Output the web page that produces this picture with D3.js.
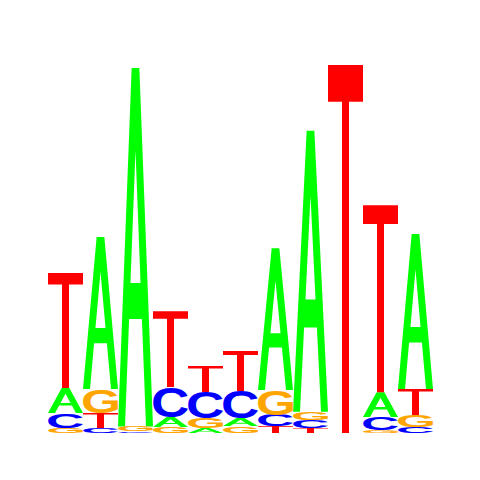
<!DOCTYPE html>
<html>
<head>
<meta charset="utf-8">
<script src="https://cdn.jsdelivr.net/npm/d3@7"></script>
<style>
  body { margin: 0; background: #fff; }
</style>
</head>
<body>
<svg id="logo" width="480" height="480"></svg>
<script>
// positions of the motif
var positions = [1, 2, 3, 4, 5, 6, 7, 8, 9, 10, 11];
// information content (bits) carried by each base at each position
var bitsA = [0.133, 0.811, 1.912, 0.053, 0.027, 0.043, 0.757, 1.499, 0.000, 0.133, 0.827];
var bitsC = [0.080, 0.027, 0.008, 0.160, 0.139, 0.144, 0.059, 0.043, 0.000, 0.069, 0.032];
var bitsG = [0.027, 0.128, 0.027, 0.032, 0.053, 0.037, 0.133, 0.043, 0.000, 0.016, 0.064];
var bitsT = [0.613, 0.080, 0.000, 0.405, 0.139, 0.213, 0.037, 0.027, 1.963, 0.997, 0.139];
var bases = ['A', 'C', 'G', 'T'];
var baseColors = { A: '#00ff00', C: '#0000ff', G: '#ffa500', T: '#ff0000' };

var svg = d3.select('#logo');

var x = d3.scaleBand().domain(positions).range([48, 433]).padding(0);
var y = d3.scaleLinear().domain([0, 2]).range([433, 58]);

// A and T drawn as outlines in a unit box (thin bars like the original logo font)
var unitGlyphs = {
  A: 'M0.39,0L0.61,0L1,1L0.80,1L0.683,0.70L0.317,0.70L0.20,1L0,1Z' +
     'M0.5,0.23L0.644,0.60L0.356,0.60Z',
  T: 'M0,0L1,0L1,0.10L0.60,0.10L0.60,1L0.40,1L0.40,0.10L0,0.10Z'
};

// C and G come from the font; measure their ink box so they can be stretched
var ctx = document.createElement('canvas').getContext('2d');
var fontSize = 100;
var fontFamily = '"Liberation Sans", Arial, sans-serif';
ctx.font = 'bold ' + fontSize + 'px ' + fontFamily;
var ink = {};
['C', 'G'].forEach(function(b) {
  var m = ctx.measureText(b);
  ink[b] = {
    left: -m.actualBoundingBoxLeft,
    right: m.actualBoundingBoxRight,
    top: -m.actualBoundingBoxAscent,
    bottom: m.actualBoundingBoxDescent
  };
});

function columnStack(i) {
  var vals = { A: bitsA[i], C: bitsC[i], G: bitsG[i], T: bitsT[i] };
  // smallest at the bottom, largest on top
  var order = bases.slice().sort(function(a, b) { return vals[a] - vals[b]; });
  var acc = 0;
  return order.map(function(b) {
    var d = { base: b, pos: positions[i], y0: acc, y1: acc + vals[b] };
    acc += vals[b];
    return d;
  }).filter(function(d) { return d.y1 - d.y0 > 0; });
}

var letters = [];
positions.forEach(function(p, i) {
  letters = letters.concat(columnStack(i));
});

var g = svg.append('g');

// path letters
g.selectAll('path.letter')
  .data(letters.filter(function(d) { return unitGlyphs[d.base]; }))
  .enter()
  .append('path')
  .attr('class', 'letter')
  .attr('d', function(d) { return unitGlyphs[d.base]; })
  .attr('fill-rule', 'evenodd')
  .attr('fill', function(d) { return baseColors[d.base]; })
  .attr('transform', function(d) {
    var top = y(d.y1), h = y(d.y0) - y(d.y1);
    return 'translate(' + x(d.pos) + ',' + top + ') scale(' + x.bandwidth() + ',' + h + ')';
  });

// font letters
g.selectAll('text.letter')
  .data(letters.filter(function(d) { return ink[d.base]; }))
  .enter()
  .append('text')
  .attr('class', 'letter')
  .attr('font-family', fontFamily)
  .attr('font-weight', 'bold')
  .attr('font-size', fontSize)
  .attr('fill', function(d) { return baseColors[d.base]; })
  .attr('transform', function(d) {
    var m = ink[d.base];
    var w = x.bandwidth();
    var top = y(d.y1), h = y(d.y0) - y(d.y1);
    var sx = w / (m.right - m.left);
    var sy = h / (m.bottom - m.top);
    return 'translate(' + (x(d.pos) - m.left * sx) + ',' + (top - m.top * sy) + ') scale(' + sx + ',' + sy + ')';
  })
  .text(function(d) { return d.base; });
</script>
</body>
</html>
